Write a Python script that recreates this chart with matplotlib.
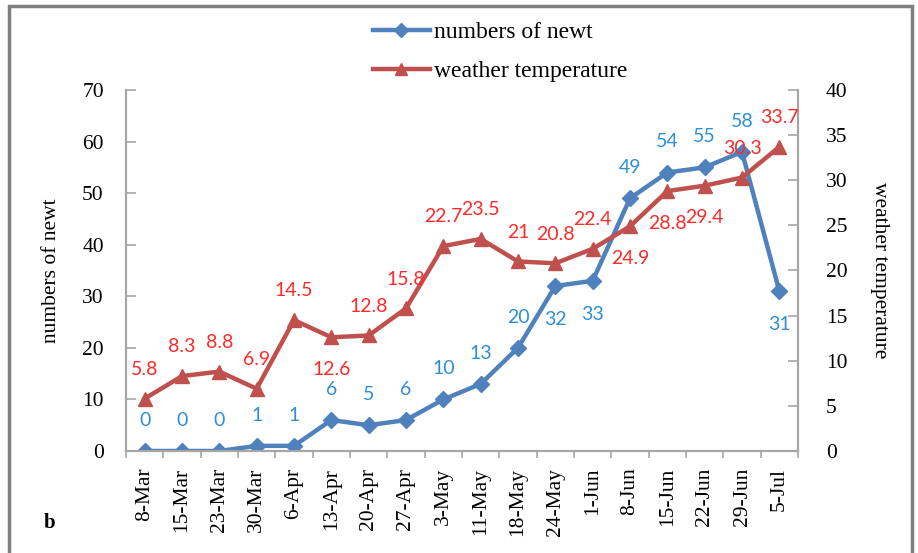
import matplotlib
matplotlib.use("Agg")
from matplotlib import pyplot as plt, patches

dates = ["8-Mar", "15-Mar", "23-Mar", "30-Mar", "6-Apr", "13-Apr", "20-Apr", "27-Apr",
         "3-May", "11-May", "18-May", "24-May", "1-Jun", "8-Jun", "15-Jun", "22-Jun",
         "29-Jun", "5-Jul"]
newts = [0, 0, 0, 1, 1, 6, 5, 6, 10, 13, 20, 32, 33, 49, 54, 55, 58, 31]
temps = [5.8, 8.3, 8.8, 6.9, 14.5, 12.6, 12.8, 15.8, 22.7, 23.5, 21, 20.8, 22.4,
         24.9, 28.8, 29.4, 30.3, 33.7]
newt_label_below = [11, 12, 17]
temp_label_below = [5, 13, 14, 15]

blue = "#4F81BD"
red = "#C0504D"
blue_txt = "#2E8FD6"
red_txt = "#FF2A2A"
gray = "#A6A6A6"
serif = "Liberation Serif"
sans = "Lato"

fig = plt.figure(figsize=(9.18, 5.53), dpi=100)
ax = fig.add_axes([126/918, 1-451/553, (798-126)/918, (451-90)/553])
ax2 = ax.twinx()

x = list(range(len(dates)))
ax.plot(x, newts, color=blue, lw=3.2, marker="D", ms=8, zorder=3)
ax2.plot(x, temps, color=red, lw=3.2, marker="^", ms=10, zorder=3)

ax.set_xlim(-0.5, len(dates) - 0.5)
ax.set_ylim(0, 70)
ax2.set_ylim(0, 40)
ax.set_yticks(range(0, 71, 10))
ax2.set_yticks(range(0, 41, 5))
ax.set_xticks(x)
ax.set_xticks([i - 0.5 for i in range(len(dates) + 1)], minor=True)
ax.set_xticklabels(dates, rotation=90, fontfamily=serif, fontsize=15.5)
ax.tick_params(axis="x", which="major", length=0, pad=12)
ax.tick_params(axis="x", which="minor", length=5, width=1.2, color=gray, direction="out")
ax.tick_params(axis="y", direction="in", length=7, width=1.2, color=gray, pad=16)
ax2.tick_params(axis="y", direction="in", length=7, width=1.2, color=gray, pad=20)
for lab in ax.get_yticklabels() + ax2.get_yticklabels():
    lab.set_fontfamily(serif)
    lab.set_fontsize(15.5)

for a in (ax, ax2):
    a.spines["top"].set_visible(False)
    for s in ("left", "right", "bottom"):
        a.spines[s].set_color(gray)
        a.spines[s].set_linewidth(1.5)

ax.set_ylabel("numbers of newt", fontfamily=serif, fontsize=15.5, labelpad=15)
ax2.set_ylabel("weather temperature", fontfamily=serif, fontsize=15.5, rotation=270, labelpad=30)

for i, v in enumerate(newts):
    off = -24 if i in newt_label_below else 22
    ax.annotate(str(v), (i, v), xytext=(0, off), textcoords="offset points",
                ha="center", va="center", color=blue_txt, fontfamily=sans, fontsize=14)
for i, v in enumerate(temps):
    off = -23 if i in temp_label_below else 21
    ax2.annotate(f"{v:g}", (i, v), xytext=(0, off), textcoords="offset points",
                 ha="center", va="center", color=red_txt, fontfamily=sans, fontsize=14)

h1, = ax.plot([], [], color=blue, lw=3.2, marker="D", ms=7)
h2, = ax.plot([], [], color=red, lw=3.2, marker="^", ms=8)
fig.legend([h1, h2], ["numbers of newt", "weather temperature"], loc="upper center",
           bbox_to_anchor=(0.545, 1.0), frameon=False, ncol=1, handlelength=2.4,
           handletextpad=0.2, labelspacing=0.75, prop={"family": serif, "size": 17})

fig.text(50/918, 1-523/553, "b", fontfamily=serif, fontweight="bold", fontsize=15,
         ha="center", va="center")
fig.patches.append(patches.Rectangle((9/918, -0.05), (912-9)/918, 1-6/553+0.05,
                                     transform=fig.transFigure, fill=False,
                                     edgecolor="#7F7F7F", lw=2.5))

fig.savefig("out.png", dpi=100)
